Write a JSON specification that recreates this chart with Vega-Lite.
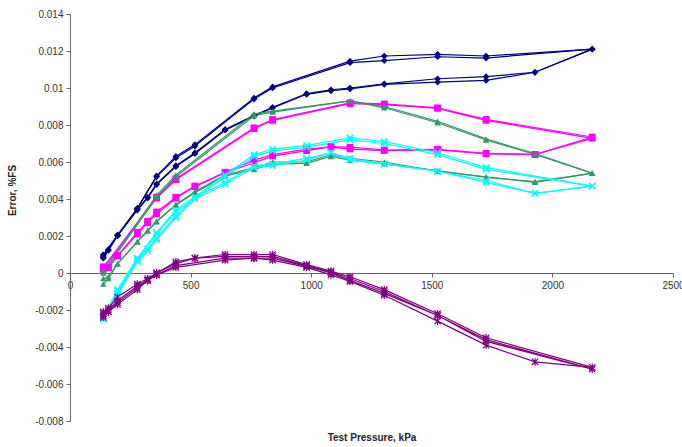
{
  "$schema": "https://vega.github.io/schema/vega-lite/v6.json",
  "width": 603,
  "height": 407,
  "autosize": "none",
  "padding": {"left": 70, "top": 14, "right": 9, "bottom": 26},
  "background": "white",
  "config": {"view": {"stroke": null}, "font": "Liberation Sans"},
  "data": {"values": [
    {"s":"A","t":"A1","p":138,"e":0.0008},{"s":"A","t":"A1","p":159,"e":0.00122},{"s":"A","t":"A1","p":197,"e":0.002},{"s":"A","t":"A1","p":279,"e":0.0034},{"s":"A","t":"A1","p":322,"e":0.00405},{"s":"A","t":"A1","p":359,"e":0.00478},{"s":"A","t":"A1","p":439,"e":0.00575},{"s":"A","t":"A1","p":518,"e":0.00645},{"s":"A","t":"A1","p":643,"e":0.00772},{"s":"A","t":"A1","p":763,"e":0.00848},{"s":"A","t":"A1","p":840,"e":0.00892},{"s":"A","t":"A1","p":981,"e":0.00966},{"s":"A","t":"A1","p":1082,"e":0.00985},{"s":"A","t":"A1","p":1161,"e":0.00995},{"s":"A","t":"A1","p":1303,"e":0.0102},{"s":"A","t":"A1","p":1524,"e":0.01032},{"s":"A","t":"A1","p":1725,"e":0.01041},{"s":"A","t":"A1","p":1928,"e":0.01085},{"s":"A","t":"A1","p":2165,"e":0.0121},{"s":"A","t":"A1","p":1725,"e":0.01162},{"s":"A","t":"A1","p":1524,"e":0.01169},{"s":"A","t":"A1","p":1303,"e":0.01148},{"s":"A","t":"A1","p":1161,"e":0.01137},{"s":"A","t":"A1","p":840,"e":0.01},{"s":"A","t":"A1","p":763,"e":0.0094},{"s":"A","t":"A1","p":518,"e":0.00686},{"s":"A","t":"A1","p":439,"e":0.00622},{"s":"A","t":"A1","p":359,"e":0.0052},{"s":"A","t":"A1","p":279,"e":0.00348},{"s":"A","t":"A1","p":197,"e":0.00202},{"s":"A","t":"A1","p":138,"e":0.00092},
    {"s":"A","t":"A2","p":138,"e":0.00085},{"s":"A","t":"A2","p":159,"e":0.00126},{"s":"A","t":"A2","p":197,"e":0.00205},{"s":"A","t":"A2","p":279,"e":0.00344},{"s":"A","t":"A2","p":322,"e":0.0041},{"s":"A","t":"A2","p":359,"e":0.00482},{"s":"A","t":"A2","p":439,"e":0.0058},{"s":"A","t":"A2","p":518,"e":0.0065},{"s":"A","t":"A2","p":643,"e":0.00776},{"s":"A","t":"A2","p":763,"e":0.00852},{"s":"A","t":"A2","p":840,"e":0.00896},{"s":"A","t":"A2","p":981,"e":0.0097},{"s":"A","t":"A2","p":1082,"e":0.0099},{"s":"A","t":"A2","p":1161,"e":0.01},{"s":"A","t":"A2","p":1303,"e":0.01022},{"s":"A","t":"A2","p":1524,"e":0.0105},{"s":"A","t":"A2","p":1725,"e":0.01061},{"s":"A","t":"A2","p":1928,"e":0.01085},{"s":"A","t":"A2","p":2165,"e":0.0121},{"s":"A","t":"A2","p":1725,"e":0.01173},{"s":"A","t":"A2","p":1524,"e":0.01182},{"s":"A","t":"A2","p":1303,"e":0.01173},{"s":"A","t":"A2","p":1161,"e":0.01145},{"s":"A","t":"A2","p":840,"e":0.01006},{"s":"A","t":"A2","p":763,"e":0.00946},{"s":"A","t":"A2","p":518,"e":0.00694},{"s":"A","t":"A2","p":439,"e":0.0063},{"s":"A","t":"A2","p":359,"e":0.00525},{"s":"A","t":"A2","p":279,"e":0.0035},{"s":"A","t":"A2","p":197,"e":0.00205},{"s":"A","t":"A2","p":138,"e":0.00098},
    {"s":"B","t":"B1","p":138,"e":0.0002},{"s":"B","t":"B1","p":159,"e":0.0003},{"s":"B","t":"B1","p":197,"e":0.00092},{"s":"B","t":"B1","p":279,"e":0.0021},{"s":"B","t":"B1","p":322,"e":0.00272},{"s":"B","t":"B1","p":359,"e":0.00319},{"s":"B","t":"B1","p":439,"e":0.00404},{"s":"B","t":"B1","p":518,"e":0.00467},{"s":"B","t":"B1","p":643,"e":0.00542},{"s":"B","t":"B1","p":763,"e":0.00596},{"s":"B","t":"B1","p":840,"e":0.00632},{"s":"B","t":"B1","p":981,"e":0.00661},{"s":"B","t":"B1","p":1082,"e":0.00683},{"s":"B","t":"B1","p":1161,"e":0.0068},{"s":"B","t":"B1","p":1303,"e":0.00665},{"s":"B","t":"B1","p":1524,"e":0.00669},{"s":"B","t":"B1","p":1725,"e":0.00647},{"s":"B","t":"B1","p":1928,"e":0.00641},{"s":"B","t":"B1","p":2165,"e":0.00728},{"s":"B","t":"B1","p":1725,"e":0.00825},{"s":"B","t":"B1","p":1524,"e":0.0089},{"s":"B","t":"B1","p":1303,"e":0.0091},{"s":"B","t":"B1","p":1161,"e":0.00915},{"s":"B","t":"B1","p":840,"e":0.00825},{"s":"B","t":"B1","p":763,"e":0.0078},{"s":"B","t":"B1","p":439,"e":0.00504},{"s":"B","t":"B1","p":359,"e":0.00405},{"s":"B","t":"B1","p":138,"e":0.00025},
    {"s":"B","t":"B2","p":138,"e":0.00034},{"s":"B","t":"B2","p":159,"e":0.0003},{"s":"B","t":"B2","p":197,"e":0.00094},{"s":"B","t":"B2","p":279,"e":0.0022},{"s":"B","t":"B2","p":322,"e":0.0028},{"s":"B","t":"B2","p":359,"e":0.0033},{"s":"B","t":"B2","p":439,"e":0.0041},{"s":"B","t":"B2","p":518,"e":0.0047},{"s":"B","t":"B2","p":643,"e":0.00545},{"s":"B","t":"B2","p":763,"e":0.0061},{"s":"B","t":"B2","p":840,"e":0.0064},{"s":"B","t":"B2","p":981,"e":0.0067},{"s":"B","t":"B2","p":1082,"e":0.0068},{"s":"B","t":"B2","p":1161,"e":0.0067},{"s":"B","t":"B2","p":1303,"e":0.00662},{"s":"B","t":"B2","p":1524,"e":0.00666},{"s":"B","t":"B2","p":1725,"e":0.00644},{"s":"B","t":"B2","p":1928,"e":0.0064},{"s":"B","t":"B2","p":2165,"e":0.00735},{"s":"B","t":"B2","p":1725,"e":0.0083},{"s":"B","t":"B2","p":1524,"e":0.00893},{"s":"B","t":"B2","p":1303,"e":0.00914},{"s":"B","t":"B2","p":1161,"e":0.0092},{"s":"B","t":"B2","p":840,"e":0.0083},{"s":"B","t":"B2","p":763,"e":0.00785},{"s":"B","t":"B2","p":439,"e":0.0051},{"s":"B","t":"B2","p":359,"e":0.0041},{"s":"B","t":"B2","p":138,"e":0.0003},
    {"s":"C","t":"C1","p":138,"e":-0.0003},{"s":"C","t":"C1","p":159,"e":-0.0002},{"s":"C","t":"C1","p":197,"e":0.00049},{"s":"C","t":"C1","p":279,"e":0.00168},{"s":"C","t":"C1","p":322,"e":0.00227},{"s":"C","t":"C1","p":359,"e":0.00277},{"s":"C","t":"C1","p":439,"e":0.00368},{"s":"C","t":"C1","p":518,"e":0.00434},{"s":"C","t":"C1","p":643,"e":0.00524},{"s":"C","t":"C1","p":763,"e":0.0056},{"s":"C","t":"C1","p":840,"e":0.00589},{"s":"C","t":"C1","p":981,"e":0.00593},{"s":"C","t":"C1","p":1082,"e":0.0063},{"s":"C","t":"C1","p":1161,"e":0.0061},{"s":"C","t":"C1","p":1303,"e":0.0059},{"s":"C","t":"C1","p":1524,"e":0.00553},{"s":"C","t":"C1","p":1725,"e":0.00517},{"s":"C","t":"C1","p":1928,"e":0.00494},{"s":"C","t":"C1","p":2165,"e":0.00539},{"s":"C","t":"C1","p":1928,"e":0.00641},{"s":"C","t":"C1","p":1725,"e":0.00719},{"s":"C","t":"C1","p":1524,"e":0.00812},{"s":"C","t":"C1","p":1303,"e":0.00893},{"s":"C","t":"C1","p":1161,"e":0.0093},{"s":"C","t":"C1","p":840,"e":0.0087},{"s":"C","t":"C1","p":763,"e":0.0085},{"s":"C","t":"C1","p":439,"e":0.0052},{"s":"C","t":"C1","p":359,"e":0.0041},{"s":"C","t":"C1","p":138,"e":0},
    {"s":"C","t":"C2","p":138,"e":-0.0006},{"s":"C","t":"C2","p":159,"e":-0.0003},{"s":"C","t":"C2","p":197,"e":0.0005},{"s":"C","t":"C2","p":279,"e":0.0017},{"s":"C","t":"C2","p":322,"e":0.0023},{"s":"C","t":"C2","p":359,"e":0.0028},{"s":"C","t":"C2","p":439,"e":0.0037},{"s":"C","t":"C2","p":518,"e":0.0044},{"s":"C","t":"C2","p":643,"e":0.0053},{"s":"C","t":"C2","p":763,"e":0.0057},{"s":"C","t":"C2","p":840,"e":0.006},{"s":"C","t":"C2","p":981,"e":0.006},{"s":"C","t":"C2","p":1082,"e":0.0064},{"s":"C","t":"C2","p":1161,"e":0.0062},{"s":"C","t":"C2","p":1303,"e":0.006},{"s":"C","t":"C2","p":1524,"e":0.0055},{"s":"C","t":"C2","p":1725,"e":0.0052},{"s":"C","t":"C2","p":1928,"e":0.0049},{"s":"C","t":"C2","p":2165,"e":0.0054},{"s":"C","t":"C2","p":1928,"e":0.00645},{"s":"C","t":"C2","p":1725,"e":0.00725},{"s":"C","t":"C2","p":1524,"e":0.0082},{"s":"C","t":"C2","p":1303,"e":0.009},{"s":"C","t":"C2","p":1161,"e":0.0093},{"s":"C","t":"C2","p":840,"e":0.00875},{"s":"C","t":"C2","p":763,"e":0.0086},{"s":"C","t":"C2","p":439,"e":0.0053},{"s":"C","t":"C2","p":359,"e":0.0042},{"s":"C","t":"C2","p":138,"e":0.0001},
    {"s":"D","t":"D1","p":138,"e":-0.0024},{"s":"D","t":"D1","p":197,"e":-0.0012},{"s":"D","t":"D1","p":279,"e":0.0006},{"s":"D","t":"D1","p":322,"e":0.0012},{"s":"D","t":"D1","p":359,"e":0.0018},{"s":"D","t":"D1","p":439,"e":0.003},{"s":"D","t":"D1","p":518,"e":0.004},{"s":"D","t":"D1","p":643,"e":0.0048},{"s":"D","t":"D1","p":763,"e":0.0057},{"s":"D","t":"D1","p":840,"e":0.0058},{"s":"D","t":"D1","p":981,"e":0.0061},{"s":"D","t":"D1","p":1082,"e":0.0065},{"s":"D","t":"D1","p":1161,"e":0.0061},{"s":"D","t":"D1","p":1303,"e":0.0059},{"s":"D","t":"D1","p":1524,"e":0.0055},{"s":"D","t":"D1","p":1725,"e":0.0049},{"s":"D","t":"D1","p":1928,"e":0.0043},{"s":"D","t":"D1","p":2165,"e":0.0047},{"s":"D","t":"D1","p":1725,"e":0.0056},{"s":"D","t":"D1","p":1524,"e":0.0064},{"s":"D","t":"D1","p":1303,"e":0.007},{"s":"D","t":"D1","p":1161,"e":0.0072},{"s":"D","t":"D1","p":981,"e":0.0068},{"s":"D","t":"D1","p":840,"e":0.0066},{"s":"D","t":"D1","p":763,"e":0.0063},{"s":"D","t":"D1","p":643,"e":0.0052},{"s":"D","t":"D1","p":439,"e":0.0033},{"s":"D","t":"D1","p":359,"e":0.0021},{"s":"D","t":"D1","p":279,"e":0.0007},{"s":"D","t":"D1","p":197,"e":-0.001},{"s":"D","t":"D1","p":138,"e":-0.0025},
    {"s":"D","t":"D2","p":138,"e":-0.0023},{"s":"D","t":"D2","p":197,"e":-0.0011},{"s":"D","t":"D2","p":279,"e":0.0007},{"s":"D","t":"D2","p":322,"e":0.0013},{"s":"D","t":"D2","p":359,"e":0.0019},{"s":"D","t":"D2","p":439,"e":0.0031},{"s":"D","t":"D2","p":518,"e":0.0041},{"s":"D","t":"D2","p":643,"e":0.0049},{"s":"D","t":"D2","p":763,"e":0.0058},{"s":"D","t":"D2","p":840,"e":0.0059},{"s":"D","t":"D2","p":981,"e":0.0062},{"s":"D","t":"D2","p":1082,"e":0.0065},{"s":"D","t":"D2","p":1161,"e":0.0062},{"s":"D","t":"D2","p":1303,"e":0.0059},{"s":"D","t":"D2","p":1524,"e":0.0055},{"s":"D","t":"D2","p":1725,"e":0.005},{"s":"D","t":"D2","p":1928,"e":0.0043},{"s":"D","t":"D2","p":2165,"e":0.0047},{"s":"D","t":"D2","p":1725,"e":0.0057},{"s":"D","t":"D2","p":1524,"e":0.0065},{"s":"D","t":"D2","p":1303,"e":0.0071},{"s":"D","t":"D2","p":1161,"e":0.0073},{"s":"D","t":"D2","p":981,"e":0.0069},{"s":"D","t":"D2","p":840,"e":0.0067},{"s":"D","t":"D2","p":763,"e":0.0064},{"s":"D","t":"D2","p":643,"e":0.0053},{"s":"D","t":"D2","p":439,"e":0.0034},{"s":"D","t":"D2","p":359,"e":0.0022},{"s":"D","t":"D2","p":279,"e":0.0008},{"s":"D","t":"D2","p":197,"e":-0.0009},{"s":"D","t":"D2","p":138,"e":-0.0024},
    {"s":"E","t":"E1","p":138,"e":-0.0021},{"s":"E","t":"E1","p":159,"e":-0.0019},{"s":"E","t":"E1","p":197,"e":-0.0013},{"s":"E","t":"E1","p":279,"e":-0.0006},{"s":"E","t":"E1","p":322,"e":-0.0003},{"s":"E","t":"E1","p":359,"e":0},{"s":"E","t":"E1","p":439,"e":0.0006},{"s":"E","t":"E1","p":518,"e":0.0008},{"s":"E","t":"E1","p":643,"e":0.001},{"s":"E","t":"E1","p":763,"e":0.001},{"s":"E","t":"E1","p":840,"e":0.001},{"s":"E","t":"E1","p":981,"e":0.00045},{"s":"E","t":"E1","p":1082,"e":0.0001},{"s":"E","t":"E1","p":1161,"e":-0.0002},{"s":"E","t":"E1","p":1303,"e":-0.0009},{"s":"E","t":"E1","p":1524,"e":-0.0022},{"s":"E","t":"E1","p":1725,"e":-0.0035},{"s":"E","t":"E1","p":2165,"e":-0.0051},{"s":"E","t":"E1","p":1928,"e":-0.0048},{"s":"E","t":"E1","p":1725,"e":-0.0039},{"s":"E","t":"E1","p":1524,"e":-0.0026},{"s":"E","t":"E1","p":1303,"e":-0.0012},{"s":"E","t":"E1","p":1161,"e":-0.00045},{"s":"E","t":"E1","p":1082,"e":-0.0001},{"s":"E","t":"E1","p":981,"e":0.0003},{"s":"E","t":"E1","p":840,"e":0.0007},{"s":"E","t":"E1","p":763,"e":0.0008},{"s":"E","t":"E1","p":643,"e":0.0007},{"s":"E","t":"E1","p":439,"e":0.0003},{"s":"E","t":"E1","p":359,"e":-0.0001},{"s":"E","t":"E1","p":322,"e":-0.0004},{"s":"E","t":"E1","p":279,"e":-0.0008},{"s":"E","t":"E1","p":197,"e":-0.0016},{"s":"E","t":"E1","p":159,"e":-0.0021},{"s":"E","t":"E1","p":138,"e":-0.0024},
    {"s":"E","t":"E2","p":138,"e":-0.0022},{"s":"E","t":"E2","p":159,"e":-0.002},{"s":"E","t":"E2","p":197,"e":-0.0015},{"s":"E","t":"E2","p":279,"e":-0.0007},{"s":"E","t":"E2","p":322,"e":-0.0004},{"s":"E","t":"E2","p":359,"e":0},{"s":"E","t":"E2","p":439,"e":0.0005},{"s":"E","t":"E2","p":518,"e":0.0008},{"s":"E","t":"E2","p":643,"e":0.0009},{"s":"E","t":"E2","p":763,"e":0.0009},{"s":"E","t":"E2","p":840,"e":0.0009},{"s":"E","t":"E2","p":981,"e":0.0004},{"s":"E","t":"E2","p":1082,"e":0.00005},{"s":"E","t":"E2","p":1161,"e":-0.0003},{"s":"E","t":"E2","p":1303,"e":-0.001},{"s":"E","t":"E2","p":1524,"e":-0.0023},{"s":"E","t":"E2","p":1725,"e":-0.0036},{"s":"E","t":"E2","p":2165,"e":-0.0052},{"s":"E","t":"E2","p":1725,"e":-0.0037},{"s":"E","t":"E2","p":1524,"e":-0.0023},{"s":"E","t":"E2","p":1303,"e":-0.0011},{"s":"E","t":"E2","p":1161,"e":-0.0004},{"s":"E","t":"E2","p":1082,"e":0},{"s":"E","t":"E2","p":981,"e":0.00035},{"s":"E","t":"E2","p":840,"e":0.0008},{"s":"E","t":"E2","p":763,"e":0.0008},{"s":"E","t":"E2","p":643,"e":0.0008},{"s":"E","t":"E2","p":439,"e":0.0004},{"s":"E","t":"E2","p":359,"e":-0.0001},{"s":"E","t":"E2","p":322,"e":-0.0004},{"s":"E","t":"E2","p":279,"e":-0.0009},{"s":"E","t":"E2","p":197,"e":-0.0017},{"s":"E","t":"E2","p":159,"e":-0.0021},{"s":"E","t":"E2","p":138,"e":-0.0023}
  ]},
  "encoding": {
    "x": {"field": "p", "type": "quantitative",
      "scale": {"domain": [0, 2500], "nice": false, "zero": false},
      "axis": {"values": [0, 500, 1000, 1500, 2000, 2500], "format": "d", "offset": -148, "grid": false,
        "title": "Test Pressure, kPa", "titleFontSize": 10, "titleFontWeight": "bold", "titleColor": "#222",
        "titleY": 164, "titleBaseline": "middle",
        "labelFontSize": 10, "labelColor": "#333", "labelFlush": false, "labelOverlap": false, "labelPadding": 3,
        "domainColor": "#666", "tickColor": "#666", "tickSize": 4}},
    "y": {"field": "e", "type": "quantitative",
      "scale": {"domain": [-0.008, 0.014], "nice": false, "zero": false},
      "axis": {"values": [-0.008, -0.006, -0.004, -0.002, 0, 0.002, 0.004, 0.006, 0.008, 0.01, 0.012, 0.014],
        "labelExpr": "'' + datum.value", "grid": false,
        "title": "Error, %FS", "titleFontSize": 10, "titleFontWeight": "bold", "titleColor": "#222",
        "titleX": -58, "titleY": 176, "titleAngle": -90, "titleAlign": "center", "titleBaseline": "middle",
        "labelFontSize": 10, "labelColor": "#333", "labelPadding": 3, "labelOverlap": false,
        "domainColor": "#666", "tickColor": "#666", "tickSize": 4}},
    "color": {"field": "s", "type": "nominal",
      "scale": {"domain": ["A", "B", "C", "D", "E"], "range": ["#000080", "#FF00FF", "#339966", "#00FFFF", "#800080"]},
      "legend": null}
  },
  "layer": [
    {"mark": {"type": "line", "strokeWidth": 1.2}, "encoding": {"detail": {"field": "t"}, "order": {"value": null}}},
    {"transform": [{"filter": "datum.s == 'A'"}], "mark": {"type": "point", "shape": "diamond", "filled": true, "size": 45, "opacity": 1}},
    {"transform": [{"filter": "datum.s == 'B'"}], "mark": {"type": "point", "shape": "square", "filled": true, "size": 45, "opacity": 1}},
    {"transform": [{"filter": "datum.s == 'C'"}], "mark": {"type": "point", "shape": "triangle-up", "filled": true, "size": 40, "opacity": 1}},
    {"transform": [{"filter": "datum.s == 'D'"}], "mark": {"type": "point", "shape": "M-1,-1L1,1M-1,1L1,-1", "filled": false, "size": 40, "strokeWidth": 1.4, "opacity": 1}},
    {"transform": [{"filter": "datum.s == 'E'"}], "mark": {"type": "point", "shape": "M-1,-1L1,1M-1,1L1,-1M0,-1.2L0,1.2", "filled": false, "size": 40, "strokeWidth": 1.2, "opacity": 1}}
  ]
}
